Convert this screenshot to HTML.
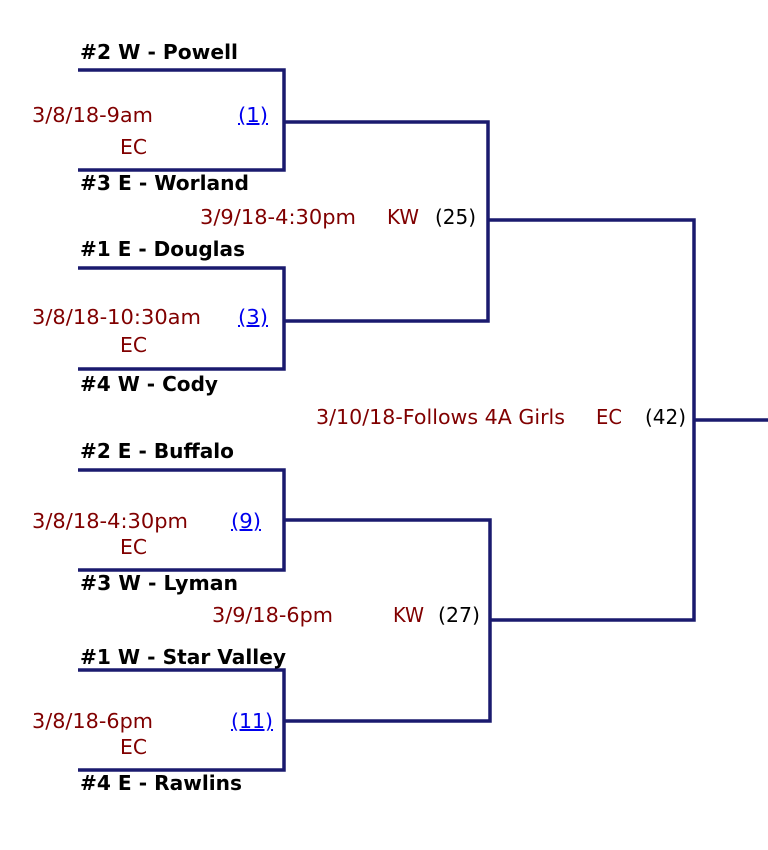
<!DOCTYPE html>
<html><head><meta charset="utf-8"><style>
html,body{margin:0;padding:0;background:#fff;}
svg{display:block;}
text{font-family:"DejaVu Sans","Liberation Sans",sans-serif;font-size:20px;}
.n{font-weight:bold;fill:#000;font-size:20px;}
.d{fill:#800000;}
.l{fill:#0000ee;text-decoration:underline;}
.k{fill:#000;}
</style></head><body>
<svg width="768" height="850" viewBox="0 0 768 850">
<g stroke="#1a1a6e" stroke-width="3.5" fill="none">
<polyline points="78,70 284,70 284,170 78,170"/>
<polyline points="78,268 284,268 284,369 78,369"/>
<polyline points="78,470 284,470 284,570 78,570"/>
<polyline points="78,670 284,670 284,770 78,770"/>
<polyline points="284,122 488,122 488,321 284,321"/>
<polyline points="284,520 490,520 490,721 284,721"/>
<polyline points="488,220 694,220 694,620 490,620"/>
<line x1="694" y1="420" x2="768" y2="420"/>
</g>
<text class="n" x="80" y="59" textLength="158" lengthAdjust="spacingAndGlyphs">#2 W - Powell</text>
<text class="n" x="80" y="190" textLength="169" lengthAdjust="spacingAndGlyphs">#3 E - Worland</text>
<text class="n" x="80" y="256" textLength="165" lengthAdjust="spacingAndGlyphs">#1 E - Douglas</text>
<text class="n" x="80" y="391" textLength="138" lengthAdjust="spacingAndGlyphs">#4 W - Cody</text>
<text class="n" x="80" y="458" textLength="154" lengthAdjust="spacingAndGlyphs">#2 E - Buffalo</text>
<text class="n" x="80" y="590" textLength="158" lengthAdjust="spacingAndGlyphs">#3 W - Lyman</text>
<text class="n" x="80" y="664" textLength="206" lengthAdjust="spacingAndGlyphs">#1 W - Star Valley</text>
<text class="n" x="80" y="790" textLength="162" lengthAdjust="spacingAndGlyphs">#4 E - Rawlins</text>

<text class="d" x="32" y="122" textLength="121" lengthAdjust="spacingAndGlyphs">3/8/18-9am</text>
<text class="d" x="120" y="154" textLength="27" lengthAdjust="spacingAndGlyphs">EC</text>
<text class="l" x="238" y="122" textLength="30" lengthAdjust="spacingAndGlyphs">(1)</text>

<text class="d" x="32" y="324" textLength="169" lengthAdjust="spacingAndGlyphs">3/8/18-10:30am</text>
<text class="d" x="120" y="352" textLength="27" lengthAdjust="spacingAndGlyphs">EC</text>
<text class="l" x="238" y="324" textLength="30" lengthAdjust="spacingAndGlyphs">(3)</text>

<text class="d" x="32" y="528" textLength="156" lengthAdjust="spacingAndGlyphs">3/8/18-4:30pm</text>
<text class="d" x="120" y="554" textLength="27" lengthAdjust="spacingAndGlyphs">EC</text>
<text class="l" x="231" y="528" textLength="30" lengthAdjust="spacingAndGlyphs">(9)</text>

<text class="d" x="32" y="728" textLength="121" lengthAdjust="spacingAndGlyphs">3/8/18-6pm</text>
<text class="d" x="120" y="754" textLength="27" lengthAdjust="spacingAndGlyphs">EC</text>
<text class="l" x="231" y="728" textLength="42" lengthAdjust="spacingAndGlyphs">(11)</text>

<text class="d" x="200" y="224" textLength="156" lengthAdjust="spacingAndGlyphs">3/9/18-4:30pm</text>
<text class="d" x="387" y="224" textLength="32" lengthAdjust="spacingAndGlyphs">KW</text>
<text class="k" x="435" y="224" textLength="41" lengthAdjust="spacingAndGlyphs">(25)</text>

<text class="d" x="212" y="622" textLength="121" lengthAdjust="spacingAndGlyphs">3/9/18-6pm</text>
<text class="d" x="393" y="622" textLength="31" lengthAdjust="spacingAndGlyphs">KW</text>
<text class="k" x="438" y="622" textLength="42" lengthAdjust="spacingAndGlyphs">(27)</text>

<text class="d" x="316" y="424" textLength="249" lengthAdjust="spacingAndGlyphs">3/10/18-Follows 4A Girls</text>
<text class="d" x="596" y="424" textLength="26" lengthAdjust="spacingAndGlyphs">EC</text>
<text class="k" x="645" y="424" textLength="41" lengthAdjust="spacingAndGlyphs">(42)</text>
</svg>
</body></html>
